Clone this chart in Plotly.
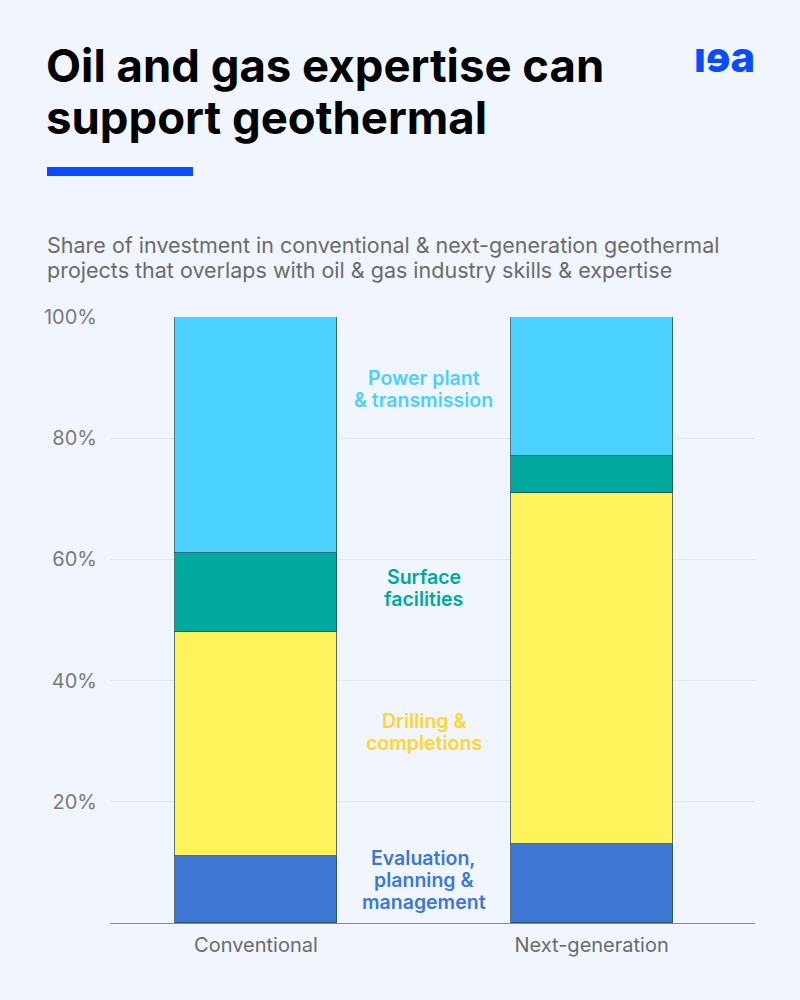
import plotly.graph_objects as go

categories = ["Conventional", "Next-generation"]
series_names = ["Evaluation, planning & management", "Drilling & completions",
                "Surface facilities", "Power plant & transmission"]
evaluation = [11, 13]
drilling = [37, 58]
surface = [13, 6]
power = [39, 23]
y_ticks = [20, 40, 60, 80, 100]
y_tick_labels = ["20%", "40%", "60%", "80%", "100%"]
label_lines = [["Evaluation,", "planning &", "management"],
               ["Drilling &", "completions"],
               ["Surface", "facilities"],
               ["Power plant", "& transmission"]]
label_y = [7.1, 31.5, 55.3, 88.1]
title_lines = ["Oil and gas expertise can", "support geothermal"]
subtitle_lines = ["Share of investment in conventional & next-generation geothermal",
                  "projects that overlaps with oil & gas industry skills & expertise"]

bar_colors = ["#3E78D4", "#FFF35C", "#00A99D", "#4BD2FF"]
label_colors = ["#3E78D4", "#FFD52E", "#00A99D", "#4DCFFF"]

W, H = 800, 1000
L, R, T, B = 110, 45, 317, 77
PH = H - T - B


def py(pix):
    return (H - B - pix) / PH


def px(pix):
    return (pix - L) / (W - L - R)


fig = go.Figure()
for name, vals, col in zip(series_names, [evaluation, drilling, surface, power], bar_colors):
    fig.add_trace(go.Bar(
        x=[0, 1], y=vals, name=name, width=0.483,
        marker=dict(color=col, line=dict(color="rgba(40,70,80,0.75)", width=1)),
        hoverinfo="skip", showlegend=False,
    ))

LS = 22
for lines, yv, col in zip(label_lines, label_y, label_colors):
    n = len(lines)
    for i, ln in enumerate(lines):
        fig.add_annotation(x=0.5, y=yv, xref="x", yref="y", text=ln, showarrow=False,
                           yshift=((n - 1) / 2 - i) * LS,
                           font=dict(family="Inter", size=19.5, color=col, weight=600),
                           xanchor="center", yanchor="middle")

# Title
for i, ln in enumerate(title_lines):
    fig.add_annotation(xref="paper", yref="paper", x=px(44), y=py(65 + 52 * i), xanchor="left",
                       yanchor="middle", text=ln, showarrow=False,
                       font=dict(family="Inter", size=45.5, color="#000000", weight=700))
# logo
fig.add_annotation(xref="paper", yref="paper", x=px(757), y=py(56), xanchor="right", yanchor="middle",
                   text="ıɘa", showarrow=False,
                   font=dict(family="Inter", size=42, color="#0A4BFF", weight=800))
# subtitle
for i, ln in enumerate(subtitle_lines):
    fig.add_annotation(xref="paper", yref="paper", x=px(45), y=py(245 + 25 * i), xanchor="left",
                       yanchor="middle", text=ln, showarrow=False,
                       font=dict(family="Inter", size=21.5, color="#6B6B6B"))

fig.add_shape(type="rect", xref="paper", yref="paper", x0=px(47), x1=px(193), y0=py(167), y1=py(176),
              fillcolor="#0A4BFF", line=dict(width=0))

fig.update_layout(
    width=W, height=H, barmode="stack",
    margin=dict(l=L, r=R, t=T, b=B),
    paper_bgcolor="#F1F6FE", plot_bgcolor="#F1F6FE",
    bargap=0,
    xaxis=dict(range=[-0.435, 1.487], tickvals=[0, 1], ticktext=categories,
               showgrid=False, zeroline=False, showline=True, linecolor="#8A8A8A", linewidth=1,
               tickfont=dict(family="Inter", size=20, color="#6B6B6B"), ticks="",
               ticklabelstandoff=4, fixedrange=True),
    yaxis=dict(range=[0, 100], tickvals=y_ticks, ticktext=y_tick_labels,
               showgrid=True, gridcolor="#E2E7EF", gridwidth=1, zeroline=False,
               tickfont=dict(family="Inter", size=20, color="#7A7A7A"), ticks="",
               ticklabelstandoff=12, fixedrange=True),
)

fig.write_html("out.html", config={"displayModeBar": False},
               post_script="document.body.style.margin='0';document.body.style.background='#F1F6FE';")
